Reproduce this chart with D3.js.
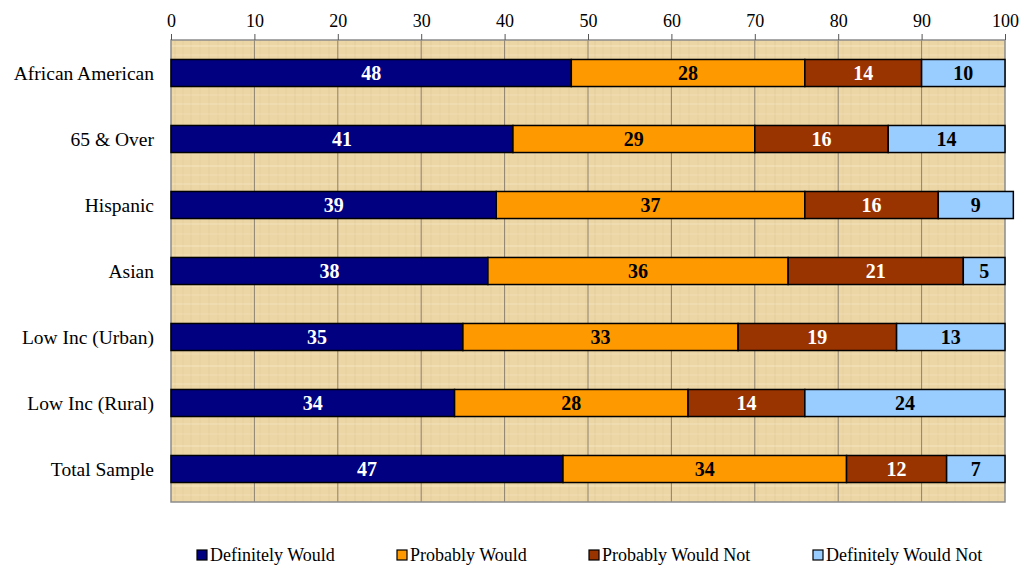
<!DOCTYPE html>
<html>
<head>
<meta charset="utf-8">
<script src="https://cdn.jsdelivr.net/npm/d3@7"></script>
<style>
  body { margin: 0; background: #fff; }
  svg { display: block; }
  text { font-family: "Liberation Serif", "Times New Roman", serif; }
</style>
</head>
<body>
<svg width="1026" height="567"></svg>
<script>
var categories = ["African American", "65 & Over", "Hispanic", "Asian", "Low Inc (Urban)", "Low Inc (Rural)", "Total Sample"];
var seriesNames = ["Definitely Would", "Probably Would", "Probably Would Not", "Definitely Would Not"];
var definitelyWould = [48, 41, 39, 38, 35, 34, 47];
var probablyWould = [28, 29, 37, 36, 33, 28, 34];
var probablyWouldNot = [14, 16, 16, 21, 19, 14, 12];
var definitelyWouldNot = [10, 14, 9, 5, 13, 24, 7];
var xTicks = [0, 10, 20, 30, 40, 50, 60, 70, 80, 90, 100];

var colors = ["#000080", "#FF9900", "#993300", "#99CCFF"];
var labelColors = ["#fff", "#000", "#fff", "#000"];

var svg = d3.select("svg");
var margin = {left: 171, right: 21, top: 40, bottom: 65};
var width = 1026 - margin.left - margin.right,
    height = 567 - margin.top - margin.bottom;

// papyrus-ish background pattern
var defs = svg.append("defs");
var pat = defs.append("pattern")
    .attr("id", "papyrus")
    .attr("patternUnits", "userSpaceOnUse")
    .attr("width", 60).attr("height", 40);
pat.append("rect").attr("width", 60).attr("height", 40).attr("fill", "#ECD6A6");
[[3, 0.10], [11, 0.06], [19, 0.08], [28, 0.05], [37, 0.09], [46, 0.06], [54, 0.07]].forEach(function(v) {
  pat.append("rect").attr("x", v[0]).attr("y", 0).attr("width", 2).attr("height", 40)
      .attr("fill", "#c9a86a").attr("opacity", v[1]);
});
[[5, 0.12], [14, 0.07], [23, 0.10], [33, 0.06]].forEach(function(v) {
  pat.append("rect").attr("x", 0).attr("y", v[0]).attr("width", 60).attr("height", 2)
      .attr("fill", "#fff5dc").attr("opacity", v[1] * 2);
});

var g = svg.append("g").attr("transform", "translate(" + margin.left + "," + margin.top + ")");

var x = d3.scaleLinear().domain([0, 100]).range([0, width]);
var y = d3.scaleBand().domain(categories).range([0, height]).paddingInner(0.59).paddingOuter(0.295);

g.append("rect").attr("width", width).attr("height", height).attr("fill", "url(#papyrus)");

// gridlines
g.selectAll(".grid").data(xTicks.slice(1, -1)).enter().append("line")
    .attr("x1", function(d) { return x(d); }).attr("x2", function(d) { return x(d); })
    .attr("y1", 0).attr("y2", height)
    .attr("stroke", "#8c8270").attr("stroke-width", 1);

g.append("rect").attr("width", width).attr("height", height)
    .attr("fill", "none").attr("stroke", "#8c8c8c").attr("stroke-width", 1.5);

// top axis
var xAxis = g.append("g").call(d3.axisTop(x).tickValues(xTicks).tickSize(6).tickPadding(7));
xAxis.attr("font-family", null);
xAxis.select(".domain").remove();
xAxis.selectAll("line").attr("stroke", "#555");
xAxis.selectAll("text").attr("font-size", 18).attr("fill", "#000");

// category labels
g.selectAll(".cat").data(categories).enter().append("text")
    .attr("x", -17)
    .attr("y", function(d) { return y(d) + y.bandwidth() / 2; })
    .attr("dy", "0.35em")
    .attr("text-anchor", "end")
    .attr("font-size", 19.5)
    .text(function(d) { return d; });

var rows = categories.map(function(c, i) {
  return {cat: c, vals: [definitelyWould[i], probablyWould[i], probablyWouldNot[i], definitelyWouldNot[i]]};
});
var stackData = [];
rows.forEach(function(r) {
  var acc = 0;
  r.vals.forEach(function(v, k) {
    stackData.push({cat: r.cat, k: k, v: v, x0: acc, x1: acc + v});
    acc += v;
  });
});

g.selectAll(".bar").data(stackData).enter().append("rect")
    .attr("x", function(d) { return x(d.x0); })
    .attr("width", function(d) { return x(d.x1) - x(d.x0); })
    .attr("y", function(d) { return y(d.cat); })
    .attr("height", y.bandwidth())
    .attr("fill", function(d) { return colors[d.k]; })
    .attr("stroke", "#000").attr("stroke-width", 1.5);

g.selectAll(".val").data(stackData).enter().append("text")
    .attr("x", function(d) { return (x(d.x0) + x(d.x1)) / 2; })
    .attr("y", function(d) { return y(d.cat) + y.bandwidth() / 2; })
    .attr("dy", "0.35em")
    .attr("text-anchor", "middle")
    .attr("font-size", 20).attr("font-weight", "bold")
    .attr("fill", function(d) { return labelColors[d.k]; })
    .text(function(d) { return d.v; });

// legend
var legendX = [197, 397, 589, 813];
var leg = svg.selectAll(".leg").data(seriesNames).enter().append("g")
    .attr("transform", function(d, i) { return "translate(" + legendX[i] + ",555)"; });
leg.append("rect").attr("x", 0).attr("y", -5).attr("width", 10).attr("height", 10)
    .attr("fill", function(d, i) { return colors[i]; })
    .attr("stroke", "#000").attr("stroke-width", 1.2);
leg.append("text").attr("x", 13).attr("y", 0).attr("dy", "0.35em")
    .attr("font-size", 18).text(function(d) { return d; });
</script>
</body>
</html>
